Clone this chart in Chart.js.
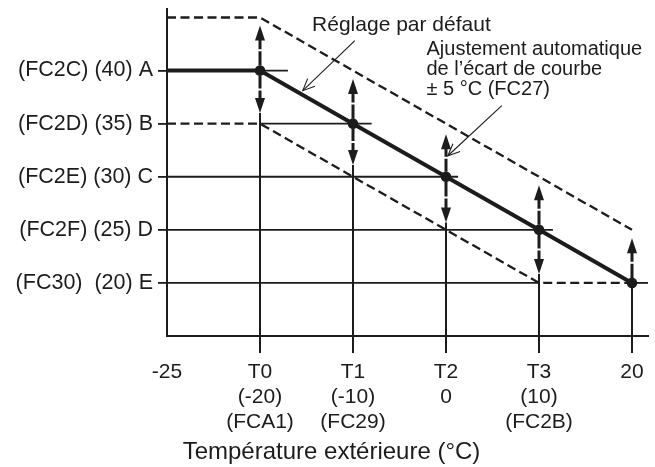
<!DOCTYPE html>
<html><head><meta charset="utf-8">
<script src="https://cdn.jsdelivr.net/npm/chart.js@4/dist/chart.umd.min.js"></script>
<style>html,body{margin:0;padding:0;background:#fff}canvas{display:block}</style>
</head><body><canvas id="c" width="655" height="467"></canvas>
<script>
const xTickValues = [0, 1, 2, 3, 4, 5];
const xTickLabels = [["-25"], ["T0", "(-20)", "(FCA1)"], ["T1", "(-10)", "(FC29)"], ["T2", "0"], ["T3", "(10)", "(FC2B)"], ["20"]];
const yTickValues = [20, 25, 30, 35, 40];
const yTickLabels = ["(FC30)  (20) E", "(FC2F) (25) D", "(FC2E) (30) C", "(FC2D) (35) B", "(FC2C) (40) A"];
const xTitle = "Température extérieure (°C)";

const xPositions = [0, 1, 2, 3, 4, 5];
const defaultCurve = [40, 40, 35, 30, 25, 20];
const upperCurve = [45, 45, 40, 35, 30, 25];
const lowerCurve = [35, 35, 30, 25, 20, 20];
const pointShown = [0, 1, 1, 1, 1, 1];

const arrowX = [1, 2, 3, 4, 5];
const arrowCenter = [40, 35, 30, 25, 20];
const arrowUpTip = [44.25, 39.2, 34.0, 29.2, 24.2];
const arrowDownTip = [36.0, 31.1, 25.7, 20.85, null];

const hLineY = [40, 35, 30, 25, 20, 20];
const hLineFrom = [0, 1, 0, 0, 0, 5];
const hLineTo = [1.3, 2.2, 3.13, 4.15, 4, 5.172];
const vLineX = [1, 2, 3, 4, 5];
const vLineTop = [36.0, 31.1, 25.7, 20.85, 20];
const vLineBottom = [15, 15, 15, 15, 15];

const noteLines = ["Réglage par défaut", "Ajustement automatique", "de l’écart de courbe", "± 5 °C (FC27)"];
const noteSize = [21, 20, 20, 20];
const noteX = [1.56, 2.79, 2.79, 2.79];
const noteY = [44.25, 42.03, 40.14, 38.25];
const leaderFromX = [2.02, 3.60], leaderFromY = [42.83, 36.70];
const leaderToX = [1.46, 3.02], leaderToY = [38.11, 31.98];

const INK = '#1c1c1c';
const FONT = '"Liberation Sans", Arial, Helvetica, sans-serif';
Chart.defaults.font.family = FONT;
Chart.defaults.color = INK;

const datasets = [];
datasets.push({
  data: xPositions.map((v, i) => ({x: v, y: defaultCurve[i]})),
  borderColor: INK, borderWidth: 4, borderCapStyle: 'butt',
  pointRadius: pointShown.map(s => s ? 5.3 : 0), pointBackgroundColor: INK, pointBorderWidth: 0
});
datasets.push({
  data: xPositions.map((v, i) => ({x: v, y: upperCurve[i]})),
  borderColor: INK, borderWidth: 2.3, borderDash: [9, 4.5], pointRadius: 0
});
datasets.push({
  data: xPositions.map((v, i) => ({x: v, y: lowerCurve[i]})),
  borderColor: INK, borderWidth: 2.3, borderDash: [9, 4.5], pointRadius: 0
});
hLineY.forEach((yv, i) => datasets.push({
  data: [{x: hLineFrom[i], y: yv}, {x: hLineTo[i], y: yv}],
  borderColor: INK, borderWidth: 1.8, pointRadius: 0
}));
vLineX.forEach((xv, i) => datasets.push({
  data: [{x: xv, y: vLineTop[i]}, {x: xv, y: vLineBottom[i]}],
  borderColor: INK, borderWidth: 2, pointRadius: 0
}));

const overlay = {
  id: 'overlay',
  afterDatasetsDraw(chart) {
    const {ctx, scales: {x, y}} = chart;
    const X = v => x.getPixelForValue(v), Y = v => y.getPixelForValue(v);
    ctx.save();
    ctx.strokeStyle = INK; ctx.fillStyle = INK;
    arrowX.forEach((ax, i) => {
      const px = X(ax), cy = Y(arrowCenter[i]);
      [arrowUpTip[i], arrowDownTip[i]].forEach(t => {
        if (t == null) return;
        const ty = Y(t), dir = ty < cy ? -1 : 1;
        const headLen = 15, hw = 5;
        const baseY = ty - dir * headLen;
        const y0 = cy + dir * 5, len = Math.abs(baseY - y0) + 1;
        ctx.setLineDash([len * 0.55, 2, 1000]); ctx.lineWidth = 3;
        ctx.beginPath(); ctx.moveTo(px, y0); ctx.lineTo(px, baseY + dir); ctx.stroke();
        ctx.setLineDash([]);
        ctx.beginPath(); ctx.moveTo(px, ty); ctx.lineTo(px - hw, baseY); ctx.lineTo(px + hw, baseY); ctx.closePath(); ctx.fill();
      });
    });
    ctx.lineWidth = 1.1; ctx.setLineDash([]);
    leaderFromX.forEach((fx, i) => {
      const x0 = X(fx), y0 = Y(leaderFromY[i]), x1 = X(leaderToX[i]), y1 = Y(leaderToY[i]);
      const ang = Math.atan2(y1 - y0, x1 - x0), L = 13, a = 0.42;
      ctx.beginPath(); ctx.moveTo(x0, y0); ctx.lineTo(x1, y1); ctx.stroke();
      ctx.beginPath();
      ctx.moveTo(x1 - L * Math.cos(ang - a), y1 - L * Math.sin(ang - a));
      ctx.lineTo(x1, y1);
      ctx.lineTo(x1 - L * Math.cos(ang + a), y1 - L * Math.sin(ang + a));
      ctx.stroke();
    });
    ctx.textAlign = 'left'; ctx.textBaseline = 'middle';
    noteLines.forEach((t, i) => {
      ctx.font = noteSize[i] + 'px ' + FONT;
      ctx.fillText(t, X(noteX[i]), Y(noteY[i]));
    });
    // x-axis title, centred on the page as in the original figure
    ctx.font = '24px ' + FONT;
    ctx.textAlign = 'center';
    ctx.fillText(xTitle, chart.width / 2 + 4, x.bottom - 15);
    ctx.restore();
  }
};

new Chart(document.getElementById('c'), {
  type: 'line',
  data: {datasets},
  plugins: [overlay],
  options: {
    responsive: false, animation: false, events: [],
    layout: {padding: {top: 9, right: 7, left: 0, bottom: 0}},
    plugins: {legend: {display: false}, tooltip: {enabled: false}},
    scales: {
      x: {
        type: 'linear', min: 0, max: 5.172,
        afterBuildTicks(s) { s.ticks = xTickValues.map(v => ({value: v})); },
        afterFit(s) { s.height = 131; s.paddingLeft = 0; s.paddingRight = 0; },
        grid: {drawOnChartArea: false, drawTicks: true, tickLength: 17, lineWidth: 2,
          color: c => (c.tick && c.tick.value === 0) ? 'rgba(0,0,0,0)' : INK},
        border: {display: true, color: INK, width: 2},
        ticks: {color: INK, padding: 7, maxRotation: 0, autoSkip: false,
          font: {size: 21, lineHeight: 25 / 21},
          callback: v => xTickLabels[xTickValues.indexOf(v)]},
        title: {display: false, text: xTitle}
      },
      y: {
        type: 'linear', min: 15, max: 45.8,
        afterBuildTicks(s) { s.ticks = yTickValues.map(v => ({value: v})); },
        afterFit(s) { s.width = 167; s.paddingTop = 0; s.paddingBottom = 0; },
        grid: {drawOnChartArea: false, drawTicks: true, tickLength: 9, lineWidth: 1.8, color: INK},
        border: {display: true, color: INK, width: 2},
        ticks: {color: INK, padding: 5, font: {size: 21.5},
          callback: v => yTickLabels[yTickValues.indexOf(v)]}
      }
    }
  }
});
</script>
</body></html>
